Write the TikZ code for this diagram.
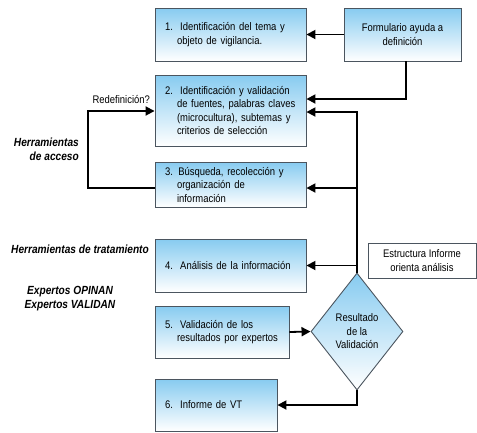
\documentclass[tikz,border=0pt]{standalone}
\usepackage{fontspec}
\setmainfont[FakeStretch=0.86]{Liberation Sans}
\usetikzlibrary{shapes.geometric,arrows.meta}
\definecolor{boxtop}{RGB}{135,203,240}
\definecolor{boxline}{RGB}{75,85,95}
\tikzset{conn/.style={line width=1.8pt,draw=black,arrows={-Triangle[length=9pt,width=9pt]}}}
\begin{document}
\begin{tikzpicture}[x=1pt,y=1pt,
  font=\fontsize{11}{13.5}\selectfont,
  stepbox/.style={draw=boxline,line width=0.9pt,top color=boxtop,bottom color=white,
    inner sep=0pt,text width=#1,align=left,anchor=center},
  plainbox/.style={draw=boxline,line width=0.9pt,inner sep=0pt,align=center},
  side/.style={font=\fontsize{11.8}{14}\selectfont\bfseries\itshape,inner sep=0pt}]
\useasboundingbox (0,0) rectangle (477,-432);
% boxes
\node[stepbox=131pt,minimum width=151pt,minimum height=53pt] (b1) at (230.5,-34.5)
  {1.\ \ Identificación del tema y\\\hspace*{12pt}objeto de vigilancia.};
\node[plainbox,top color=boxtop,bottom color=white,minimum width=117pt,minimum height=53pt] (form) at (402.5,-34.5)
  {Formulario ayuda a\\definición};
\node[stepbox=131pt,minimum width=151pt,minimum height=71pt] (b2) at (230.5,-110.5)
  {2.\ \ Identificación y validación\\\hspace*{12pt}de fuentes, palabras claves\\\hspace*{12pt}(microcultura), subtemas y\\\hspace*{12pt}criterios de selección};
\node[stepbox=131pt,minimum width=151pt,minimum height=45pt] (b3) at (230.5,-184.5)
  {3. Búsqueda, recolección y\\\hspace*{12pt}organización de\\\hspace*{12pt}información};
\node[stepbox=131pt,minimum width=151pt,minimum height=53pt] (b4) at (230.5,-265.5)
  {4.\ \ Análisis de la información};
\node[stepbox=114pt,minimum width=134pt,minimum height=52pt] (b5) at (222,-332)
  {5.\ \ Validación de los\\\hspace*{12pt}resultados por expertos};
\node[stepbox=102pt,minimum width=122pt,minimum height=52pt] (b6) at (216,-405)
  {6.\ \ Informe de VT};
\node[plainbox,fill=white,minimum width=108pt,minimum height=35pt] (est) at (422,-260.5)
  {Estructura Informe\\orienta análisis};
\node[diamond,draw=boxline,line width=0.9pt,top color=boxtop,bottom color=white,
  inner sep=0pt,minimum width=92pt,minimum height=117pt,aspect=0.8,align=center] (dia) at (357,-331.5)
  {Resultado\\de la\\Validación};
% side labels
\node[side,align=right,anchor=east] (acc) at (79,-149.5) {Herramientas\\de acceso};
\node[side] (trat) at (80,-249) {Herramientas de tratamiento};
\node[side,align=center] (exp) at (70,-298.5) {Expertos OPINAN\\Expertos VALIDAN};
% connectors
\coordinate (f2) at ([xshift=3.5pt]form.south);
\coordinate (e2a) at ([yshift=11.5pt]b2.east);
\coordinate (e2b) at ([yshift=-1.5pt]b2.east);
\coordinate (e3) at ([yshift=-3.5pt]b3.east);
\coordinate (w3) at ([yshift=-3.5pt]b3.west);
\coordinate (w2) at ([yshift=-0.5pt]b2.west);
\coordinate (loop) at (88,-188);
\draw[conn] (form.west) -- (b1.east);
\draw[conn] (f2) |- (e2a);
\draw[conn] (dia.north) -- (dia.north |- e2b) -- (e2b);
\draw[conn] (e3 -| dia.north) -- (e3);
\draw[conn] (b4.east -| dia.north) -- (b4.east);
\draw[conn] (w3) -- (loop) |- (w2) node[pos=0.75,above=3pt] (redef) {Redefinición?};
\draw[conn] (b5.east) -- (dia.west);
\draw[conn] (dia.south) |- (b6.east);
\end{tikzpicture}
\end{document}
